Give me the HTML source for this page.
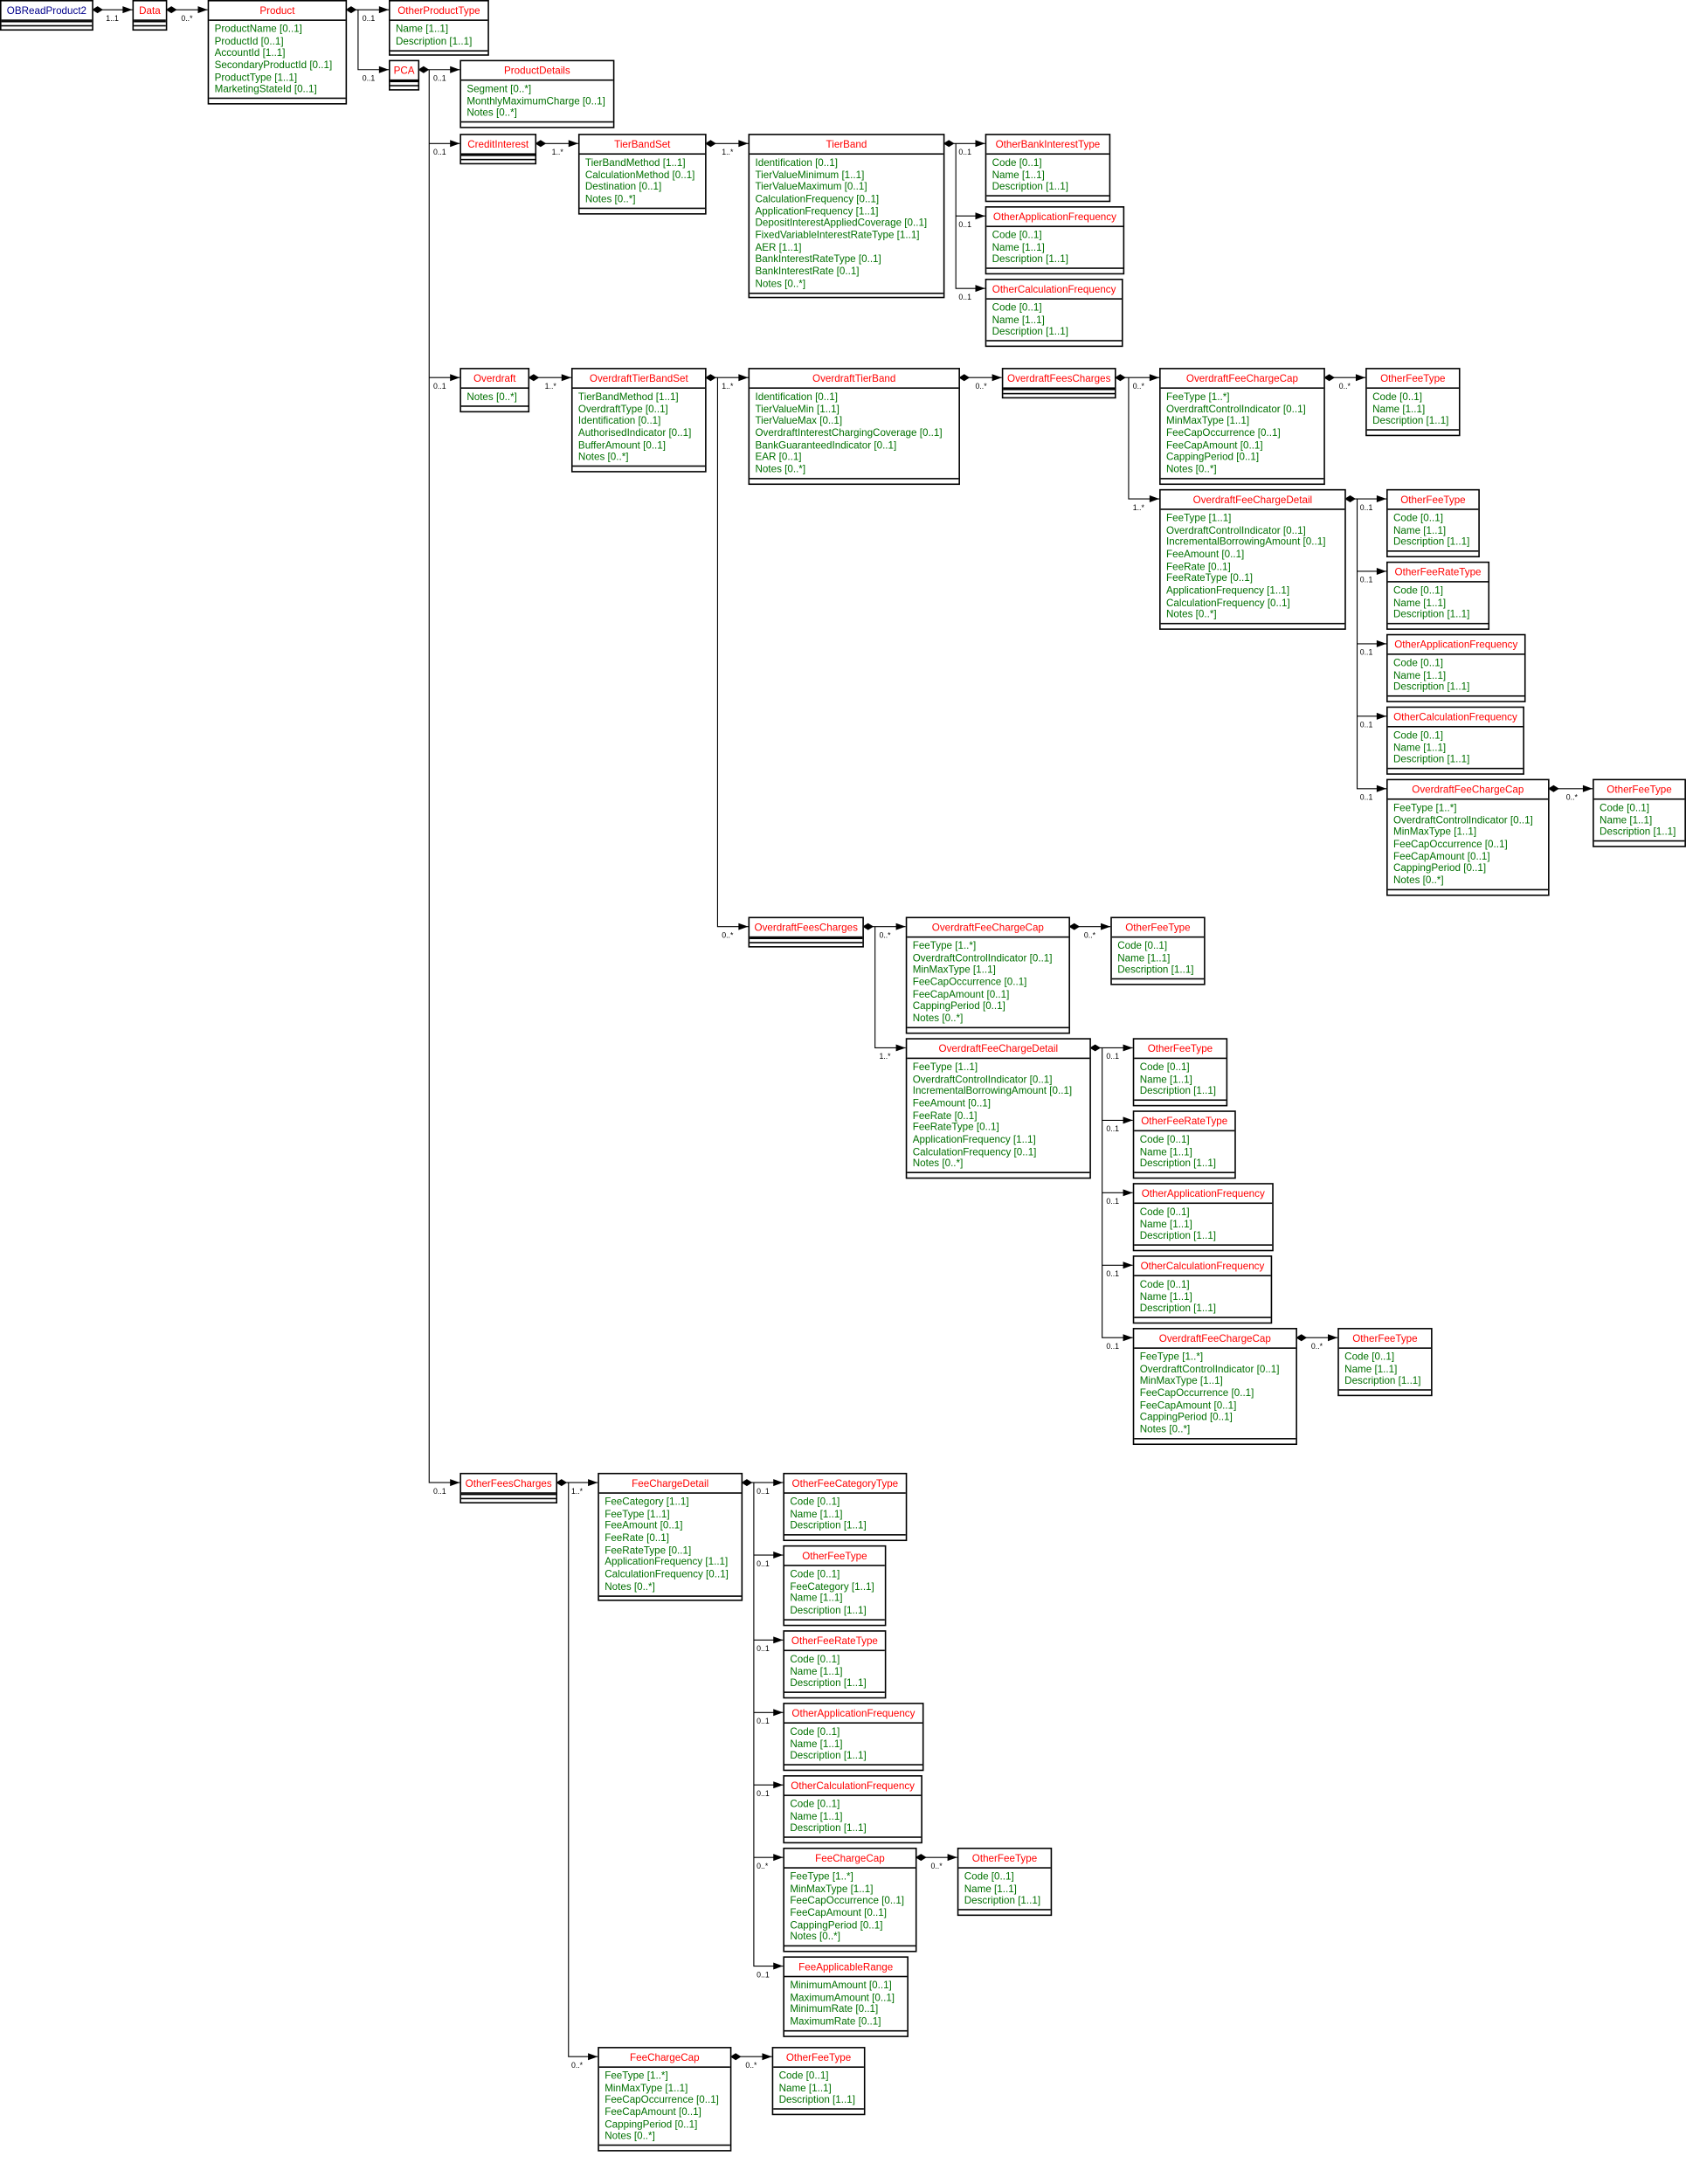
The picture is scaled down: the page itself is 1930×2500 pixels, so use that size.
<!DOCTYPE html>
<html><head><meta charset="utf-8"><style>
html,body{margin:0;padding:0;background:#fff;}
body{width:1930px;height:2500px;overflow:hidden;position:relative;}
#c{position:absolute;left:0;top:0;width:1210px;height:1567px;transform:scale(1.595,1.595);transform-origin:0 0;font-family:"Liberation Sans",sans-serif;}
.b{position:absolute;border:0.7px solid #000;background:#fff;box-sizing:border-box;}
.t{height:13px;line-height:13px;text-align:center;color:#f00;font-size:7.3px;border-bottom:0.7px solid #000;white-space:nowrap;}
.a{padding:2px 0 1.5px 4px;line-height:8.65px;font-size:7.3px;color:#007000;white-space:nowrap;}
.e{border-top:0.7px solid #000;height:2.5px;}
.e2{border-top:0.7px solid #000;height:2px;}
svg{position:absolute;left:0;top:0;}
svg text{font-family:"Liberation Sans",sans-serif;font-size:5.5px;fill:#000;}
</style></head><body><div id="c">
<svg width="1210" height="1567" viewBox="0 0 1210 1567">
<defs>
<polygon id="d" points="0,0 4,-2.5 8,0 4,2.5" fill="#000"/>
<polygon id="r" points="-7,-2.5 0,0 -7,2.5" fill="#000"/>
</defs>
<path fill="none" stroke="#000" stroke-width="0.7" d="M66 7H95M119 7H149M248 7H279M257 7V50H279M300 50H330M308 50V1064H330M308 103H330M308 271H330M384 103H415M506 103H537M677 103H707M686 103V207H707M686 155H707M379 271H410M506 271H537M515 271V665H537M688 271H719M800 271H832M810 271V358H832M950 271H980M965 358H995M974 358V566H995M974 410H995M974 462H995M974 514H995M1111 566H1143M619 665H650M628 665V752H650M767 665H797M782 752H813M791 752V960H813M791 804H813M791 856H813M791 908H813M930 960H960M399 1064H429M408 1064V1476H429M532 1064H562M541 1064V1411H562M541 1116H562M541 1177H562M541 1229H562M541 1281H562M541 1333H562M657 1333H687M524 1476H554"/>
<use href="#d" x="66" y="7"/><use href="#d" x="119" y="7"/><use href="#d" x="248" y="7"/><use href="#d" x="300" y="50"/><use href="#d" x="384" y="103"/><use href="#d" x="506" y="103"/><use href="#d" x="677" y="103"/><use href="#d" x="379" y="271"/><use href="#d" x="506" y="271"/><use href="#d" x="688" y="271"/><use href="#d" x="800" y="271"/><use href="#d" x="950" y="271"/><use href="#d" x="965" y="358"/><use href="#d" x="1111" y="566"/><use href="#d" x="619" y="665"/><use href="#d" x="767" y="665"/><use href="#d" x="782" y="752"/><use href="#d" x="930" y="960"/><use href="#d" x="399" y="1064"/><use href="#d" x="532" y="1064"/><use href="#d" x="657" y="1333"/><use href="#d" x="524" y="1476"/>
<use href="#r" x="95" y="7"/><use href="#r" x="149" y="7"/><use href="#r" x="279" y="7"/><use href="#r" x="279" y="50"/><use href="#r" x="330" y="50"/><use href="#r" x="330" y="103"/><use href="#r" x="330" y="271"/><use href="#r" x="330" y="1064"/><use href="#r" x="415" y="103"/><use href="#r" x="537" y="103"/><use href="#r" x="707" y="103"/><use href="#r" x="707" y="155"/><use href="#r" x="707" y="207"/><use href="#r" x="410" y="271"/><use href="#r" x="537" y="271"/><use href="#r" x="537" y="665"/><use href="#r" x="719" y="271"/><use href="#r" x="832" y="271"/><use href="#r" x="832" y="358"/><use href="#r" x="980" y="271"/><use href="#r" x="995" y="358"/><use href="#r" x="995" y="410"/><use href="#r" x="995" y="462"/><use href="#r" x="995" y="514"/><use href="#r" x="995" y="566"/><use href="#r" x="1143" y="566"/><use href="#r" x="650" y="665"/><use href="#r" x="650" y="752"/><use href="#r" x="797" y="665"/><use href="#r" x="813" y="752"/><use href="#r" x="813" y="804"/><use href="#r" x="813" y="856"/><use href="#r" x="813" y="908"/><use href="#r" x="813" y="960"/><use href="#r" x="960" y="960"/><use href="#r" x="429" y="1064"/><use href="#r" x="429" y="1476"/><use href="#r" x="562" y="1064"/><use href="#r" x="562" y="1116"/><use href="#r" x="562" y="1177"/><use href="#r" x="562" y="1229"/><use href="#r" x="562" y="1281"/><use href="#r" x="562" y="1333"/><use href="#r" x="562" y="1411"/><use href="#r" x="687" y="1333"/><use href="#r" x="554" y="1476"/>
<text x="76" y="15">1..1</text><text x="130" y="15">0..*</text><text x="260" y="15">0..1</text><text x="260" y="58">0..1</text><text x="311" y="58">0..1</text><text x="311" y="111">0..1</text><text x="311" y="279">0..1</text><text x="311" y="1072">0..1</text><text x="396" y="111">1..*</text><text x="518" y="111">1..*</text><text x="688" y="111">0..1</text><text x="688" y="163">0..1</text><text x="688" y="215">0..1</text><text x="391" y="279">1..*</text><text x="518" y="279">1..*</text><text x="518" y="673">0..*</text><text x="700" y="279">0..*</text><text x="813" y="279">0..*</text><text x="813" y="366">1..*</text><text x="961" y="279">0..*</text><text x="976" y="366">0..1</text><text x="976" y="418">0..1</text><text x="976" y="470">0..1</text><text x="976" y="522">0..1</text><text x="976" y="574">0..1</text><text x="1124" y="574">0..*</text><text x="631" y="673">0..*</text><text x="631" y="760">1..*</text><text x="778" y="673">0..*</text><text x="794" y="760">0..1</text><text x="794" y="812">0..1</text><text x="794" y="864">0..1</text><text x="794" y="916">0..1</text><text x="794" y="968">0..1</text><text x="941" y="968">0..*</text><text x="410" y="1072">1..*</text><text x="410" y="1484">0..*</text><text x="543" y="1072">0..1</text><text x="543" y="1124">0..1</text><text x="543" y="1185">0..1</text><text x="543" y="1237">0..1</text><text x="543" y="1289">0..1</text><text x="543" y="1341">0..*</text><text x="543" y="1419">0..1</text><text x="668" y="1341">0..*</text><text x="535" y="1484">0..*</text>
</svg>

<div class="b" style="left:0;top:0;width:67px"><div class="t" style="color:#00008b">OBReadProduct2</div><div class="e2"></div><div class="e2"></div></div>
<div class="b" style="left:95px;top:0;width:25px"><div class="t">Data</div><div class="e2"></div><div class="e2"></div></div>
<div class="b" style="left:149px;top:0;width:100px"><div class="t">Product</div><div class="a">ProductName [0..1]<br>ProductId [0..1]<br>AccountId [1..1]<br>SecondaryProductId [0..1]<br>ProductType [1..1]<br>MarketingStateId [0..1]</div><div class="e"></div></div>
<div class="b" style="left:279px;top:0;width:72px"><div class="t">OtherProductType</div><div class="a">Name [1..1]<br>Description [1..1]</div><div class="e"></div></div>
<div class="b" style="left:279px;top:43px;width:22px"><div class="t">PCA</div><div class="e2"></div><div class="e2"></div></div>
<div class="b" style="left:330px;top:43px;width:111px"><div class="t">ProductDetails</div><div class="a">Segment [0..*]<br>MonthlyMaximumCharge [0..1]<br>Notes [0..*]</div><div class="e"></div></div>
<div class="b" style="left:330px;top:96px;width:55px"><div class="t">CreditInterest</div><div class="e2"></div><div class="e2"></div></div>
<div class="b" style="left:415px;top:96px;width:92px"><div class="t">TierBandSet</div><div class="a">TierBandMethod [1..1]<br>CalculationMethod [0..1]<br>Destination [0..1]<br>Notes [0..*]</div><div class="e"></div></div>
<div class="b" style="left:537px;top:96px;width:141px"><div class="t">TierBand</div><div class="a">Identification [0..1]<br>TierValueMinimum [1..1]<br>TierValueMaximum [0..1]<br>CalculationFrequency [0..1]<br>ApplicationFrequency [1..1]<br>DepositInterestAppliedCoverage [0..1]<br>FixedVariableInterestRateType [1..1]<br>AER [1..1]<br>BankInterestRateType [0..1]<br>BankInterestRate [0..1]<br>Notes [0..*]</div><div class="e"></div></div>
<div class="b" style="left:707px;top:96px;width:90px"><div class="t">OtherBankInterestType</div><div class="a">Code [0..1]<br>Name [1..1]<br>Description [1..1]</div><div class="e"></div></div>
<div class="b" style="left:707px;top:148px;width:100px"><div class="t">OtherApplicationFrequency</div><div class="a">Code [0..1]<br>Name [1..1]<br>Description [1..1]</div><div class="e"></div></div>
<div class="b" style="left:707px;top:200px;width:99px"><div class="t">OtherCalculationFrequency</div><div class="a">Code [0..1]<br>Name [1..1]<br>Description [1..1]</div><div class="e"></div></div>

<div class="b" style="left:330px;top:264px;width:50px"><div class="t">Overdraft</div><div class="a">Notes [0..*]</div><div class="e"></div></div>
<div class="b" style="left:410px;top:264px;width:97px"><div class="t">OverdraftTierBandSet</div><div class="a">TierBandMethod [1..1]<br>OverdraftType [0..1]<br>Identification [0..1]<br>AuthorisedIndicator [0..1]<br>BufferAmount [0..1]<br>Notes [0..*]</div><div class="e"></div></div>
<div class="b" style="left:537px;top:264px;width:152px"><div class="t">OverdraftTierBand</div><div class="a">Identification [0..1]<br>TierValueMin [1..1]<br>TierValueMax [0..1]<br>OverdraftInterestChargingCoverage [0..1]<br>BankGuaranteedIndicator [0..1]<br>EAR [0..1]<br>Notes [0..*]</div><div class="e"></div></div>
<div class="b" style="left:719px;top:264px;width:82px"><div class="t">OverdraftFeesCharges</div><div class="e2"></div><div class="e2"></div></div>
<div class="b" style="left:832px;top:264px;width:119px"><div class="t">OverdraftFeeChargeCap</div><div class="a">FeeType [1..*]<br>OverdraftControlIndicator [0..1]<br>MinMaxType [1..1]<br>FeeCapOccurrence [0..1]<br>FeeCapAmount [0..1]<br>CappingPeriod [0..1]<br>Notes [0..*]</div><div class="e"></div></div>
<div class="b" style="left:980px;top:264px;width:68px"><div class="t">OtherFeeType</div><div class="a">Code [0..1]<br>Name [1..1]<br>Description [1..1]</div><div class="e"></div></div>
<div class="b" style="left:832px;top:351px;width:134px"><div class="t">OverdraftFeeChargeDetail</div><div class="a">FeeType [1..1]<br>OverdraftControlIndicator [0..1]<br>IncrementalBorrowingAmount [0..1]<br>FeeAmount [0..1]<br>FeeRate [0..1]<br>FeeRateType [0..1]<br>ApplicationFrequency [1..1]<br>CalculationFrequency [0..1]<br>Notes [0..*]</div><div class="e"></div></div>
<div class="b" style="left:995px;top:351px;width:67px"><div class="t">OtherFeeType</div><div class="a">Code [0..1]<br>Name [1..1]<br>Description [1..1]</div><div class="e"></div></div>
<div class="b" style="left:995px;top:403px;width:74px"><div class="t">OtherFeeRateType</div><div class="a">Code [0..1]<br>Name [1..1]<br>Description [1..1]</div><div class="e"></div></div>
<div class="b" style="left:995px;top:455px;width:100px"><div class="t">OtherApplicationFrequency</div><div class="a">Code [0..1]<br>Name [1..1]<br>Description [1..1]</div><div class="e"></div></div>
<div class="b" style="left:995px;top:507px;width:99px"><div class="t">OtherCalculationFrequency</div><div class="a">Code [0..1]<br>Name [1..1]<br>Description [1..1]</div><div class="e"></div></div>
<div class="b" style="left:995px;top:559px;width:117px"><div class="t">OverdraftFeeChargeCap</div><div class="a">FeeType [1..*]<br>OverdraftControlIndicator [0..1]<br>MinMaxType [1..1]<br>FeeCapOccurrence [0..1]<br>FeeCapAmount [0..1]<br>CappingPeriod [0..1]<br>Notes [0..*]</div><div class="e"></div></div>
<div class="b" style="left:1143px;top:559px;width:67px"><div class="t">OtherFeeType</div><div class="a">Code [0..1]<br>Name [1..1]<br>Description [1..1]</div><div class="e"></div></div>

<div class="b" style="left:537px;top:658px;width:83px"><div class="t">OverdraftFeesCharges</div><div class="e2"></div><div class="e2"></div></div>
<div class="b" style="left:650px;top:658px;width:118px"><div class="t">OverdraftFeeChargeCap</div><div class="a">FeeType [1..*]<br>OverdraftControlIndicator [0..1]<br>MinMaxType [1..1]<br>FeeCapOccurrence [0..1]<br>FeeCapAmount [0..1]<br>CappingPeriod [0..1]<br>Notes [0..*]</div><div class="e"></div></div>
<div class="b" style="left:797px;top:658px;width:68px"><div class="t">OtherFeeType</div><div class="a">Code [0..1]<br>Name [1..1]<br>Description [1..1]</div><div class="e"></div></div>
<div class="b" style="left:650px;top:745px;width:133px"><div class="t">OverdraftFeeChargeDetail</div><div class="a">FeeType [1..1]<br>OverdraftControlIndicator [0..1]<br>IncrementalBorrowingAmount [0..1]<br>FeeAmount [0..1]<br>FeeRate [0..1]<br>FeeRateType [0..1]<br>ApplicationFrequency [1..1]<br>CalculationFrequency [0..1]<br>Notes [0..*]</div><div class="e"></div></div>
<div class="b" style="left:813px;top:745px;width:68px"><div class="t">OtherFeeType</div><div class="a">Code [0..1]<br>Name [1..1]<br>Description [1..1]</div><div class="e"></div></div>
<div class="b" style="left:813px;top:797px;width:74px"><div class="t">OtherFeeRateType</div><div class="a">Code [0..1]<br>Name [1..1]<br>Description [1..1]</div><div class="e"></div></div>
<div class="b" style="left:813px;top:849px;width:101px"><div class="t">OtherApplicationFrequency</div><div class="a">Code [0..1]<br>Name [1..1]<br>Description [1..1]</div><div class="e"></div></div>
<div class="b" style="left:813px;top:901px;width:100px"><div class="t">OtherCalculationFrequency</div><div class="a">Code [0..1]<br>Name [1..1]<br>Description [1..1]</div><div class="e"></div></div>
<div class="b" style="left:813px;top:953px;width:118px"><div class="t">OverdraftFeeChargeCap</div><div class="a">FeeType [1..*]<br>OverdraftControlIndicator [0..1]<br>MinMaxType [1..1]<br>FeeCapOccurrence [0..1]<br>FeeCapAmount [0..1]<br>CappingPeriod [0..1]<br>Notes [0..*]</div><div class="e"></div></div>
<div class="b" style="left:960px;top:953px;width:68px"><div class="t">OtherFeeType</div><div class="a">Code [0..1]<br>Name [1..1]<br>Description [1..1]</div><div class="e"></div></div>

<div class="b" style="left:330px;top:1057px;width:70px"><div class="t">OtherFeesCharges</div><div class="e2"></div><div class="e2"></div></div>
<div class="b" style="left:429px;top:1057px;width:104px"><div class="t">FeeChargeDetail</div><div class="a">FeeCategory [1..1]<br>FeeType [1..1]<br>FeeAmount [0..1]<br>FeeRate [0..1]<br>FeeRateType [0..1]<br>ApplicationFrequency [1..1]<br>CalculationFrequency [0..1]<br>Notes [0..*]</div><div class="e"></div></div>
<div class="b" style="left:562px;top:1057px;width:89px"><div class="t">OtherFeeCategoryType</div><div class="a">Code [0..1]<br>Name [1..1]<br>Description [1..1]</div><div class="e"></div></div>
<div class="b" style="left:562px;top:1109px;width:74px"><div class="t">OtherFeeType</div><div class="a">Code [0..1]<br>FeeCategory [1..1]<br>Name [1..1]<br>Description [1..1]</div><div class="e"></div></div>
<div class="b" style="left:562px;top:1170px;width:74px"><div class="t">OtherFeeRateType</div><div class="a">Code [0..1]<br>Name [1..1]<br>Description [1..1]</div><div class="e"></div></div>
<div class="b" style="left:562px;top:1222px;width:101px"><div class="t">OtherApplicationFrequency</div><div class="a">Code [0..1]<br>Name [1..1]<br>Description [1..1]</div><div class="e"></div></div>
<div class="b" style="left:562px;top:1274px;width:100px"><div class="t">OtherCalculationFrequency</div><div class="a">Code [0..1]<br>Name [1..1]<br>Description [1..1]</div><div class="e"></div></div>
<div class="b" style="left:562px;top:1326px;width:96px"><div class="t">FeeChargeCap</div><div class="a">FeeType [1..*]<br>MinMaxType [1..1]<br>FeeCapOccurrence [0..1]<br>FeeCapAmount [0..1]<br>CappingPeriod [0..1]<br>Notes [0..*]</div><div class="e"></div></div>
<div class="b" style="left:687px;top:1326px;width:68px"><div class="t">OtherFeeType</div><div class="a">Code [0..1]<br>Name [1..1]<br>Description [1..1]</div><div class="e"></div></div>
<div class="b" style="left:562px;top:1404px;width:90px"><div class="t">FeeApplicableRange</div><div class="a">MinimumAmount [0..1]<br>MaximumAmount [0..1]<br>MinimumRate [0..1]<br>MaximumRate [0..1]</div><div class="e"></div></div>
<div class="b" style="left:429px;top:1469px;width:96px"><div class="t">FeeChargeCap</div><div class="a">FeeType [1..*]<br>MinMaxType [1..1]<br>FeeCapOccurrence [0..1]<br>FeeCapAmount [0..1]<br>CappingPeriod [0..1]<br>Notes [0..*]</div><div class="e"></div></div>
<div class="b" style="left:554px;top:1469px;width:67px"><div class="t">OtherFeeType</div><div class="a">Code [0..1]<br>Name [1..1]<br>Description [1..1]</div><div class="e"></div></div>
</div></body></html>
